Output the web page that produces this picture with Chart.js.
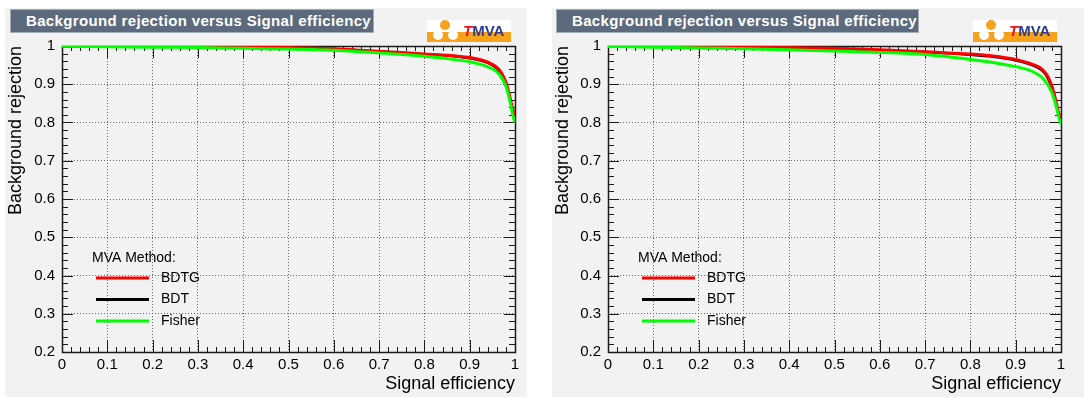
<!DOCTYPE html>
<html>
<head>
<meta charset="utf-8">
<script src="https://cdn.jsdelivr.net/npm/chart.js@4"></script>
<style>
  body { margin: 0; background: #fff; width: 1084px; height: 398px; overflow: hidden; font-family: "Liberation Sans", Arial, sans-serif; }
  .panel { position: absolute; top: 8px; height: 389px; background: #f2f2f2; }
  .panel canvas { position: absolute; left: 0; top: 0; }
  .title-box { position: absolute; top: 1px; height: 24px; background: #5c6a7d; border: 1px solid #a3abb6; color: #fff;
               font-weight: bold; font-size: 15px; letter-spacing: 0.35px; line-height: 22px; box-sizing: border-box; padding-left: 15px; white-space: nowrap; }
  .logo { position: absolute; top: 12px; width: 84px; height: 22px; background: #fff; overflow: hidden; }
  .logo .strip { position: absolute; left: 0; top: 12px; width: 84px; height: 10px; background: #f7a21b; }
  .logo .dot { position: absolute; width: 10px; height: 10px; border-radius: 50%; }
  .logo .txt { position: absolute; left: 36px; top: 2px; font-weight: bold; font-size: 15px; color: #2b3990; }
  .logo .txt i { color: #e8141c; }
</style>
</head>
<body>
<div class="panel" id="p1" style="left:5px;width:522px;">
  <canvas id="c1" width="522" height="389"></canvas>
  <div class="title-box" style="left:5px;width:364px;">Background rejection versus Signal efficiency</div>
  <div class="logo" style="left:422px;">
    <div class="strip"></div>
    <div class="dot" style="left:13px;top:0px;background:#f7a21b;"></div>
    <div class="dot" style="left:6px;top:10px;background:#fff;"></div>
    <div class="dot" style="left:21px;top:10px;background:#fff;"></div>
    <div class="txt"><i>T</i>MVA</div>
  </div>
</div>
<div class="panel" id="p2" style="left:552px;width:532px;">
  <canvas id="c2" width="532" height="389"></canvas>
  <div class="title-box" style="left:4px;width:363px;">Background rejection versus Signal efficiency</div>
  <div class="logo" style="left:421px;">
    <div class="strip"></div>
    <div class="dot" style="left:13px;top:0px;background:#f7a21b;"></div>
    <div class="dot" style="left:6px;top:10px;background:#fff;"></div>
    <div class="dot" style="left:21px;top:10px;background:#fff;"></div>
    <div class="txt"><i>T</i>MVA</div>
  </div>
</div>
<script>
// Signal efficiency sample points (x)
const signalEff = [0, 0.1, 0.2, 0.3, 0.4, 0.5, 0.6, 0.7, 0.75, 0.8, 0.85, 0.9, 0.93, 0.95, 0.96, 0.97, 0.98, 0.985, 0.99, 0.995, 1.0];

// Left panel: background rejection
const leftBDTG   = [1.0, 1.0, 1.0, 0.999, 0.998, 0.996, 0.993, 0.986, 0.983, 0.979, 0.976, 0.970, 0.962, 0.952, 0.944, 0.930, 0.905, 0.885, 0.860, 0.835, 0.820];
const leftBDT    = [1.0, 1.0, 0.999, 0.998, 0.997, 0.995, 0.992, 0.985, 0.982, 0.978, 0.975, 0.968, 0.960, 0.950, 0.941, 0.926, 0.900, 0.880, 0.855, 0.830, 0.820];
const leftFisher = [1.0, 0.998, 0.997, 0.996, 0.994, 0.992, 0.989, 0.982, 0.978, 0.973, 0.967, 0.959, 0.950, 0.940, 0.932, 0.918, 0.895, 0.875, 0.850, 0.820, 0.800];

// Right panel: background rejection
const rightBDTG   = [1.0, 1.0, 0.999, 0.998, 0.996, 0.994, 0.990, 0.985, 0.982, 0.979, 0.974, 0.965, 0.955, 0.946, 0.937, 0.922, 0.895, 0.875, 0.850, 0.825, 0.815];
const rightBDT    = [1.0, 1.0, 0.999, 0.997, 0.995, 0.993, 0.989, 0.984, 0.981, 0.977, 0.972, 0.963, 0.953, 0.943, 0.934, 0.918, 0.890, 0.870, 0.845, 0.820, 0.810];
const rightFisher = [0.999, 0.997, 0.995, 0.993, 0.990, 0.987, 0.983, 0.978, 0.972, 0.965, 0.957, 0.946, 0.937, 0.925, 0.915, 0.900, 0.878, 0.860, 0.840, 0.815, 0.795];

const methodNames = ["BDTG", "BDT", "Fisher"];
const methodColors = ["#ff0000", "#000000", "#00ff00"];

const FONT = '"Liberation Sans", Arial, Helvetica, sans-serif';

function toPoints(ys) {
  return signalEff.map((x, i) => ({ x: x, y: ys[i] }));
}

// ROOT style frame with inward ticks on all four sides
const rootFrame = {
  id: "rootFrame",
  beforeDatasetsDraw(chart) {
    const { ctx, chartArea: a, scales } = chart;
    const xs = scales.x, ys = scales.y;
    ctx.save();
    ctx.strokeStyle = "#1a1a1a";
    ctx.lineWidth = 1;
    ctx.beginPath();
    for (let i = 0; i <= 50; i++) {
      const px = Math.round(xs.getPixelForValue(i / 50)) + 0.5;
      const len = i % 5 === 0 ? 12 : 5;
      ctx.moveTo(px, a.bottom); ctx.lineTo(px, a.bottom - len);
      ctx.moveTo(px, a.top); ctx.lineTo(px, a.top + len);
    }
    for (let i = 0; i <= 40; i++) {
      const py = Math.round(ys.getPixelForValue(0.2 + i * 0.02)) + 0.5;
      const len = i % 5 === 0 ? 11 : 6;
      ctx.moveTo(a.left, py); ctx.lineTo(a.left + len, py);
      ctx.moveTo(a.right, py); ctx.lineTo(a.right - len, py);
    }
    ctx.stroke();
    ctx.lineWidth = 1.5;
    ctx.strokeRect(Math.round(a.left) + 0.5, Math.round(a.top) + 0.5, Math.round(a.right - a.left), Math.round(a.bottom - a.top));
    ctx.restore();
  }
};

// Legend inside the frame, ROOT TLegend look
const mvaLegend = {
  id: "mvaLegend",
  afterDatasetsDraw(chart) {
    const { ctx, chartArea: a } = chart;
    ctx.save();
    ctx.font = "14px " + FONT;
    ctx.fillStyle = "#000";
    ctx.textBaseline = "middle";
    ctx.fillText("MVA Method:", a.left + 30, a.top + 212);
    chart.data.datasets.forEach((ds, i) => {
      const yy = a.top + 232 + i * 21.5;
      ctx.strokeStyle = ds.borderColor;
      ctx.lineWidth = 3;
      ctx.beginPath();
      ctx.moveTo(a.left + 34, yy);
      ctx.lineTo(a.left + 87, yy);
      ctx.stroke();
      ctx.fillText(ds.label, a.left + 99, yy);
    });
    ctx.restore();
  }
};

const tickFmt = (v) => String(Number(v.toFixed(1)));

function makeChart(id, series, rightPad, yWidth) {
  new Chart(document.getElementById(id), {
    type: "line",
    data: {
      datasets: series.map((s, i) => ({
        label: methodNames[i],
        data: toPoints(s),
        borderColor: methodColors[i],
        borderWidth: i === 1 ? 2.5 : 3,
        pointRadius: 0,
        fill: false,
        tension: 0.2,
        order: [1, 2, 0][i]
      }))
    },
    options: {
      responsive: false,
      animation: false,
      layout: { padding: { left: 0, top: 38, right: rightPad, bottom: 0 } },
      plugins: { legend: { display: false }, tooltip: { enabled: false } },
      scales: {
        x: {
          type: "linear",
          min: 0,
          max: 1,
          afterFit: (s) => { s.height = 45; },
          ticks: { stepSize: 0.1, padding: 4, color: "#000", font: { family: FONT, size: 15 }, callback: tickFmt },
          grid: { color: "#666", lineWidth: 1, drawTicks: false },
          border: { display: false, dash: [1, 2] },
          title: { display: true, text: "Signal efficiency", align: "end", color: "#000",
                   font: { family: FONT, size: 18 }, padding: { top: 0, bottom: 2 } }
        },
        y: {
          type: "linear",
          min: 0.2,
          max: 1,
          afterFit: (s) => { s.width = yWidth; },
          ticks: { stepSize: 0.1, padding: 7, color: "#000", font: { family: FONT, size: 15 }, callback: tickFmt },
          grid: { color: "#666", lineWidth: 1, drawTicks: false },
          border: { display: false, dash: [1, 2] },
          title: { display: true, text: "Background rejection", align: "end", color: "#000",
                   font: { family: FONT, size: 18 }, padding: { top: 0, bottom: 0 } }
        }
      }
    },
    plugins: [rootFrame, mvaLegend]
  });
}

makeChart("c1", [leftBDTG, leftBDT, leftFisher], 12, 57);
makeChart("c2", [rightBDTG, rightBDT, rightFisher], 23, 56);
</script>
</body>
</html>
